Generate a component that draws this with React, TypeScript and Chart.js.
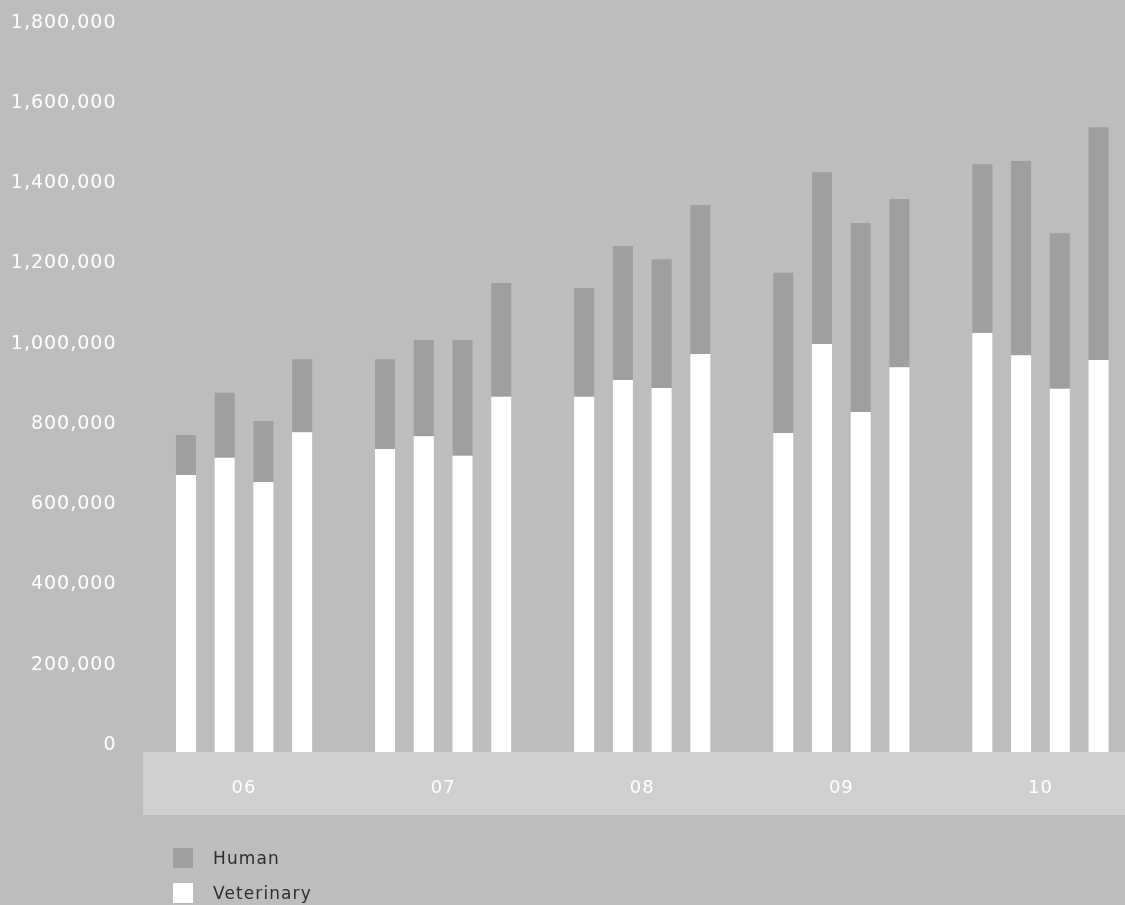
import React, { useEffect, useRef } from "react";
import { Chart, registerables } from "chart.js";

Chart.register(...registerables);

// Year groups on the x axis
const years = ["06", "07", "08", "09", "10"];

// Veterinary volumes per quarter (one value per year)
const veterinaryQ1 = [690000, 755000, 885000, 795000, 1044000];
const veterinaryQ2 = [733000, 787000, 927000, 1017000, 989000];
const veterinaryQ3 = [673000, 738000, 907000, 847000, 905000];
const veterinaryQ4 = [797000, 885000, 992000, 959000, 977000];

// Human volumes per quarter (stacked on top of veterinary)
const humanQ1 = [100000, 224000, 271000, 399000, 421000];
const humanQ2 = [162000, 240000, 334000, 428000, 484000];
const humanQ3 = [152000, 289000, 321000, 471000, 388000];
const humanQ4 = [182000, 284000, 371000, 419000, 580000];

// Y axis tick values
const yTicks = [0, 200000, 400000, 600000, 800000, 1000000, 1200000, 1400000, 1600000, 1800000];

const BG = "#bdbdbd";
const BAND = "#cfcfcf";
const HUMAN = "#9f9f9f";
const VET = "#ffffff";
const FONT = "'DejaVu Sans', sans-serif";

const CANVAS_W = 1140;
const CANVAS_H = 905;
const PLOT_TOP = 29.7;
const PLOT_BOTTOM = 752;
const PLOT_LEFT = 144.5;

// Lighter strip behind the year labels, plus letter spacing for canvas text
const bandPlugin = {
  id: "yearBand",
  beforeDraw(chart: any) {
    const { ctx, chartArea } = chart;
    ctx.letterSpacing = "1px";
    ctx.save();
    ctx.fillStyle = BAND;
    ctx.fillRect(chartArea.left - 1.5, chartArea.bottom, chart.width, 63);
    ctx.restore();
  },
};

export default function App() {
  const canvasRef = useRef<HTMLCanvasElement | null>(null);

  useEffect(() => {
    const canvas = canvasRef.current;
    if (!canvas) return;

    const quarters = [
      { vet: veterinaryQ1, hum: humanQ1 },
      { vet: veterinaryQ2, hum: humanQ2 },
      { vet: veterinaryQ3, hum: humanQ3 },
      { vet: veterinaryQ4, hum: humanQ4 },
    ];
    const datasets: any[] = [];
    quarters.forEach((q, i) => {
      const stack = "q" + (i + 1);
      datasets.push({
        label: "Veterinary",
        data: q.vet,
        backgroundColor: VET,
        stack,
        borderWidth: 0,
      });
      datasets.push({
        label: "Human",
        data: q.hum,
        backgroundColor: HUMAN,
        stack,
        borderWidth: 0,
      });
    });

    const chart = new Chart(canvas, {
      type: "bar",
      data: { labels: years, datasets },
      options: {
        animation: false,
        responsive: false,
        maintainAspectRatio: false,
        layout: { padding: { top: PLOT_TOP, left: 0, right: 0, bottom: 0 } },
        datasets: {
          bar: { categoryPercentage: 0.778, barPercentage: 0.517 },
        },
        plugins: {
          legend: { display: false },
          tooltip: { enabled: false },
        },
        scales: {
          x: {
            stacked: true,
            grid: { display: false, drawTicks: false },
            border: { display: false },
            ticks: {
              color: "#ffffff",
              font: { family: FONT, size: 18 },
              padding: 26,
            },
            afterFit(scale: any) {
              scale.height = CANVAS_H - PLOT_BOTTOM;
              scale.paddingLeft = 0;
              scale.paddingRight = 0;
            },
          },
          y: {
            stacked: true,
            min: 0,
            max: 1800000,
            afterBuildTicks(scale: any) {
              scale.ticks = yTicks.map((v) => ({ value: v }));
            },
            grid: { display: false, drawTicks: false },
            border: { display: false },
            ticks: {
              color: "#ffffff",
              font: { family: FONT, size: 19 },
              padding: 28,
              labelOffset: -7,
              callback: (v: any) => Number(v).toLocaleString("en-US"),
            },
            afterFit(scale: any) {
              scale.width = PLOT_LEFT;
              scale.paddingTop = 0;
              scale.paddingBottom = 0;
            },
          },
        },
      },
      plugins: [bandPlugin],
    });

    return () => chart.destroy();
  }, []);

  const legendItems = [
    { label: "Human", color: HUMAN, top: 848 },
    { label: "Veterinary", color: VET, top: 883 },
  ];

  return (
    <div
      style={{
        position: "fixed",
        left: 0,
        top: 0,
        width: 1125,
        height: 905,
        overflow: "hidden",
        background: BG,
      }}
    >
      <canvas
        ref={canvasRef}
        width={CANVAS_W}
        height={CANVAS_H}
        style={{ position: "absolute", left: 0, top: 0, width: CANVAS_W, height: CANVAS_H }}
      />
      {legendItems.map((item) => (
        <div
          key={item.label}
          style={{
            position: "absolute",
            left: 173,
            top: item.top,
            height: 20,
            display: "flex",
            alignItems: "center",
            fontFamily: FONT,
            fontSize: 17,
            letterSpacing: "1.1px",
            color: "#2e2e2e",
            whiteSpace: "nowrap",
          }}
        >
          <span
            style={{
              display: "inline-block",
              width: 20,
              height: 20,
              background: item.color,
              marginRight: 20,
            }}
          />
          <span>{item.label}</span>
        </div>
      ))}
    </div>
  );
}
